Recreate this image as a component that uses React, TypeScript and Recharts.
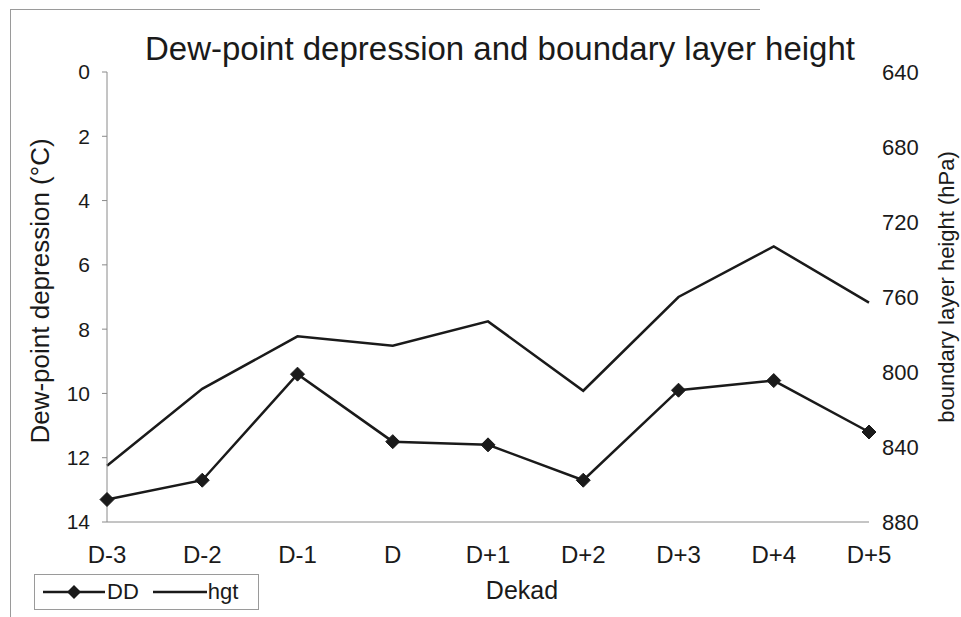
import { LineChart, Line, XAxis, YAxis } from 'recharts';

const dekads = ['D-3', 'D-2', 'D-1', 'D', 'D+1', 'D+2', 'D+3', 'D+4', 'D+5'];
const ddValues = [13.3, 12.7, 9.4, 11.5, 11.6, 12.7, 9.9, 9.6, 11.2];
const hgtValues = [850, 809, 781, 786, 773, 810, 760, 733, 763];
const ddTicks = [0, 2, 4, 6, 8, 10, 12, 14];
const hgtTicks = [640, 680, 720, 760, 800, 840, 880];

const data = dekads.map((d, i) => ({ dekad: d, DD: ddValues[i], hgt: hgtValues[i] }));

const FONT = '"Liberation Sans", Arial, sans-serif';
const INK = '#1a1a1a';

const Diamond = (props: any) => {
  const { cx, cy, index } = props;
  if (cx == null || cy == null) return null;
  const r = 7;
  return (
    <path
      key={index}
      d={`M${cx},${cy - r} L${cx + r},${cy} L${cx},${cy + r} L${cx - r},${cy} Z`}
      fill={INK}
      stroke={INK}
      strokeWidth={1}
    />
  );
};

export default function App() {
  return (
    <div style={{ position: 'absolute', left: 0, top: 0, width: 961, height: 617, background: '#fff', fontFamily: FONT }}>
      {/* scan frame */}
      <div style={{ position: 'absolute', left: 10, top: 9, width: 750, borderTop: '1.5px solid #9a9a9a' }} />
      <div style={{ position: 'absolute', left: 10, top: 9, height: 608, borderLeft: '1.5px solid #9a9a9a' }} />

      <LineChart width={961} height={617} data={data} margin={{ top: 72, right: 32, bottom: 65, left: 47 }}>
        <XAxis
          dataKey="dekad"
          height={30}
          stroke="#8a8a8a"
          tickLine={false}
          tickMargin={18}
          tick={{ fill: INK, fontSize: 24, fontFamily: FONT }}
          interval={0}
        />
        <YAxis
          yAxisId="dd"
          orientation="left"
          width={60}
          domain={[0, 14]}
          ticks={ddTicks}
          reversed
          stroke="#8a8a8a"
          tickSize={5}
          tickMargin={12}
          tick={{ fill: INK, fontSize: 21, fontFamily: FONT }}
          interval={0}
        />
        <YAxis
          yAxisId="hgt"
          orientation="right"
          width={60}
          domain={[640, 880]}
          ticks={hgtTicks}
          reversed
          axisLine={false}
          tickLine={false}
          tickSize={0}
          tickMargin={13}
          tick={{ fill: INK, fontSize: 22, fontFamily: FONT }}
          interval={0}
        />
        <Line
          yAxisId="hgt"
          dataKey="hgt"
          name="hgt"
          type="linear"
          stroke={INK}
          strokeWidth={2.5}
          dot={false}
          isAnimationActive={false}
        />
        <Line
          yAxisId="dd"
          dataKey="DD"
          name="DD"
          type="linear"
          stroke={INK}
          strokeWidth={2.5}
          dot={Diamond}
          isAnimationActive={false}
        />
      </LineChart>

      <div style={{ position: 'absolute', left: 0, top: 30, width: 1000, textAlign: 'center', fontSize: 33, color: INK, lineHeight: '38px' }}>
        Dew-point depression and boundary layer height
      </div>

      <div
        style={{
          position: 'absolute', left: 40, top: 291, fontSize: 26, color: INK, whiteSpace: 'nowrap',
          transform: 'translate(-50%, -50%) rotate(-90deg)',
        }}
      >
        Dew-point depression (°C)
      </div>

      <div
        style={{
          position: 'absolute', left: 947, top: 287, fontSize: 22, color: INK, whiteSpace: 'nowrap',
          transform: 'translate(-50%, -50%) rotate(-90deg)',
        }}
      >
        boundary layer height (hPa)
      </div>

      <div style={{ position: 'absolute', left: 522, top: 590, transform: 'translate(-50%, -50%)', fontSize: 25, color: INK }}>
        Dekad
      </div>

      <div
        style={{
          position: 'absolute', left: 34, top: 574, width: 225, height: 36, boxSizing: 'border-box',
          border: '1.5px solid #9a9a9a', display: 'flex', alignItems: 'center', fontSize: 22, color: INK,
        }}
      >
        <svg width={62} height={20} style={{ marginLeft: 8 }}>
          <line x1={0} y1={10} x2={62} y2={10} stroke={INK} strokeWidth={2.5} />
          <path d="M31,3 L38,10 L31,17 L24,10 Z" fill={INK} />
        </svg>
        <span style={{ marginLeft: 2 }}>DD</span>
        <svg width={54} height={20} style={{ marginLeft: 14 }}>
          <line x1={0} y1={10} x2={54} y2={10} stroke={INK} strokeWidth={2.5} />
        </svg>
        <span style={{ marginLeft: 1 }}>hgt</span>
      </div>
    </div>
  );
}
